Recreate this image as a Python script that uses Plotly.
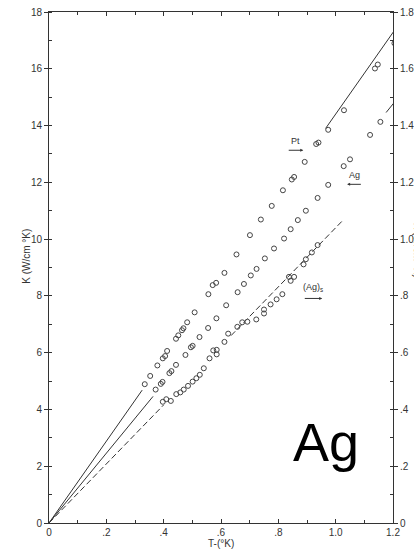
import plotly.graph_objects as go

# ---- data ----
T_pt = [0.334,0.353,0.378,0.397,0.405,0.412,0.443,0.451,0.464,0.469,0.482,0.508,0.556,0.571,0.583,0.612,
        0.654,0.701,0.739,0.777,0.816,0.847,0.855,0.892,0.932,0.940,0.974,1.029,1.137,1.147,1.205]
K_pt = [4.89,5.18,5.55,5.80,5.88,6.06,6.49,6.61,6.79,6.86,7.07,7.42,8.06,8.38,8.46,8.81,
        9.46,10.14,10.69,11.17,11.72,12.10,12.19,12.72,13.35,13.40,13.85,14.54,16.01,16.15,16.90]

T_ag = [0.372,0.390,0.396,0.420,0.427,0.443,0.476,0.495,0.501,0.525,0.555,0.584,0.618,0.658,0.680,
        0.704,0.724,0.753,0.785,0.820,0.843,0.868,0.896,0.937,0.974,1.028,1.050,1.120,1.156]
K_ag = [4.70,4.90,4.97,5.28,5.35,5.57,5.92,6.19,6.24,6.55,6.87,7.21,7.67,8.13,8.42,
        8.72,8.95,9.32,9.67,10.02,10.35,10.67,11.00,11.45,11.91,12.57,12.81,13.67,14.13]

T_ags = [0.397,0.409,0.425,0.444,0.458,0.470,0.485,0.501,0.514,0.526,0.540,0.560,0.573,0.585,0.585,
         0.612,0.625,0.657,0.674,0.692,0.723,0.750,0.750,0.773,0.794,0.814,0.837,0.843,0.855,0.888,
         0.896,0.917,0.937]
K_ags = [4.27,4.36,4.30,4.54,4.60,4.70,4.83,4.98,5.10,5.22,5.45,5.80,6.08,6.10,5.94,
         6.38,6.67,6.91,7.07,7.09,7.17,7.38,7.52,7.70,7.88,8.06,8.67,8.53,8.67,9.11,
         9.29,9.53,9.79]

# fitted lines (drawn in segments)
T_line_pt = [0, 0.325, None, 0.965, 1.205]
K_line_pt = [0, 4.68, None, 13.90, 17.35]
T_line_ag = [0, 0.363, None, 1.176, 1.208]
K_line_ag = [0, 4.46, None, 14.46, 14.86]
T_line_ags = [0, 0.400, None, 0.635, 1.025]
K_line_ags = [0, 4.16, None, 6.60, 10.66]

x_ticks = [0, 0.2, 0.4, 0.6, 0.8, 1.0, 1.2]
x_ticklabels = ["0", ".2", ".4", ".6", ".8", "1.0", "1.2"]
y_ticks = [0, 2, 4, 6, 8, 10, 12, 14, 16, 18]
y_ticklabels = ["0", "2", "4", "6", "8", "10", "12", "14", "16", "18"]
y2_ticks = [0, 0.2, 0.4, 0.6, 0.8, 1.0, 1.2, 1.4, 1.6, 1.8]
y2_ticklabels = ["0", ".2", ".4", ".6", ".8", "1.0", "1.2", "1.4", "1.6", "1.8"]

INK = "#333333"
FONT = "Liberation Sans"

fig = go.Figure()

def pts(x, y):
    fig.add_trace(go.Scatter(x=x, y=y, mode="markers",
                             marker=dict(symbol="circle-open", size=5, color="#444444",
                                         line=dict(width=1, color="#444444")),
                             showlegend=False, hoverinfo="skip"))

def line(x, y, dash="solid"):
    fig.add_trace(go.Scatter(x=x, y=y, mode="lines", connectgaps=False,
                             line=dict(color=INK, width=1, dash=dash),
                             showlegend=False, hoverinfo="skip"))

line(T_line_pt, K_line_pt)
line(T_line_ag, K_line_ag)
line(T_line_ags, K_line_ags, dash="6px,3px")
pts(T_pt, K_pt)
pts(T_ag, K_ag)
pts(T_ags, K_ags)

# invisible trace for right axis
fig.add_trace(go.Scatter(x=[0], y=[0], yaxis="y2", mode="markers",
                         marker=dict(opacity=0), showlegend=False, hoverinfo="skip"))

tickfont = dict(family=FONT, size=10, color=INK)

fig.update_layout(
    width=414, height=553,
    margin=dict(l=49, r=21, t=12, b=30, autoexpand=False),
    paper_bgcolor="white", plot_bgcolor="white",
    xaxis=dict(range=[0, 1.2], tickvals=x_ticks, ticktext=x_ticklabels, automargin=False,
               showgrid=False, zeroline=False, showline=True, linecolor=INK, linewidth=1,
               mirror="ticks", ticks="inside", ticklen=4, tickcolor=INK,
               minor=dict(dtick=0.1, ticks="inside", ticklen=3, tickcolor=INK),
               tickfont=tickfont),
    yaxis=dict(range=[0, 18], tickvals=y_ticks, ticktext=y_ticklabels, automargin=False,
               showgrid=False, zeroline=False, showline=True, linecolor=INK, linewidth=1,
               mirror=True, ticks="outside", ticklen=4, tickcolor=INK,
               minor=dict(dtick=1, ticks="inside", ticklen=3, tickcolor=INK),
               tickfont=tickfont),
    yaxis2=dict(range=[0, 1.8], overlaying="y", side="right", automargin=False,
                tickvals=y2_ticks, ticktext=y2_ticklabels,
                showgrid=False, zeroline=False, showline=False,
                ticks="outside", ticklen=4, tickcolor=INK,
                minor=dict(dtick=0.1, ticks="inside", ticklen=3, tickcolor=INK),
                tickfont=tickfont),
    font=dict(family=FONT, color=INK),
)

ann = []
# axis titles
ann.append(dict(text="T-(°K)", x=0.6, y=-0.026, xref="x", yref="paper", showarrow=False,
                yanchor="top", font=dict(family=FONT, size=10, color=INK)))
ann.append(dict(text="K (W/cm °K)", x=-0.046, xref="paper", y=9.4, yref="y", showarrow=False,
                textangle=-90, xanchor="right", font=dict(family=FONT, size=10, color=INK)))
ann.append(dict(text="K (W/cm °K)", x=1.05, xref="paper", y=9.6, yref="y", showarrow=False,
                textangle=90, xanchor="left", font=dict(family=FONT, size=10, color=INK)))
# series labels
ann.append(dict(text="Pt", x=0.859, y=13.45, xref="x", yref="y", showarrow=False,
                font=dict(family=FONT, size=9, color=INK)))
ann.append(dict(text="Ag", x=1.066, y=12.25, xref="x", yref="y", showarrow=False,
                font=dict(family=FONT, size=9, color=INK)))
ann.append(dict(text="(Ag)<sub>s</sub>", x=0.922, y=8.3, xref="x", yref="y", showarrow=False,
                font=dict(family=FONT, size=9, color=INK)))
# arrows
for (x0, x1, yy) in [(0.831, 0.887, 13.13), (1.093, 1.040, 11.93), (0.887, 0.953, 7.91)]:
    ann.append(dict(x=x1, y=yy, ax=x0, ay=yy, xref="x", yref="y", axref="x", ayref="y",
                    text="", showarrow=True, arrowhead=2, arrowsize=0.6, arrowwidth=1,
                    arrowcolor=INK))
# big label
ann.append(dict(text="Ag", x=0.967, y=2.85, xref="x", yref="y", showarrow=False,
                font=dict(family="Liberation Sans", size=54, color="black")))
fig.update_layout(annotations=ann)

fig.write_html("out.html", config={"displayModeBar": False},
               post_script="document.body.style.margin='0';document.body.style.overflow='hidden';")
